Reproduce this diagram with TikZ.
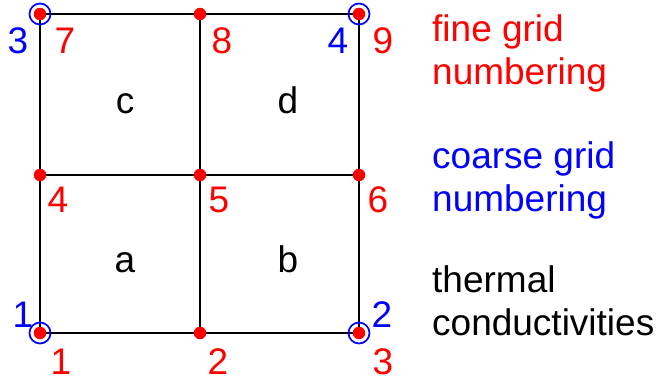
\documentclass[tikz,border=0pt]{standalone}
\usepackage{fontspec}
\setmainfont{Liberation Sans}

\begin{document}
\begin{tikzpicture}[x=1pt,y=-1pt,
  lbl/.style={font=\fontsize{37}{43}\selectfont,inner sep=0pt,anchor=base},
  fine/.style={lbl,red},
  coarse/.style={lbl,blue},
  legend/.style={lbl,anchor=base west,align=left},
  finept/.style={circle,fill=red,inner sep=0pt,minimum size=12.5pt},
  coarsept/.style={circle,draw=blue,line width=1.7pt,inner sep=0pt,minimum size=21pt}]
  \useasboundingbox (0,0) rectangle (658,381);
  % grid points, numbered as on the fine grid
  \coordinate (p1) at (40,333);
  \coordinate (p2) at (200,333);
  \coordinate (p3) at (359,333);
  \coordinate (p4) at (40,175);
  \coordinate (p5) at (200,175);
  \coordinate (p6) at (359,175);
  \coordinate (p7) at (40,14);
  \coordinate (p8) at (200,14);
  \coordinate (p9) at (359,14);
  % cell edges
  \draw[line width=1.6pt] (p1) -- (p3) -- (p9) -- (p7) -- cycle;
  \draw[line width=1.6pt] (p4) -- (p6);
  \draw[line width=1.6pt] (p2) -- (p8);
  % fine grid nodes
  \foreach \i in {1,...,9}
    \node[finept] (n\i) at (p\i) {};
  % coarse grid nodes
  \node[coarsept] (c1) at (p1) {};
  \node[coarsept] (c2) at (p3) {};
  \node[coarsept] (c3) at (p7) {};
  \node[coarsept] (c4) at (p9) {};
  % fine grid numbering
  \node[fine] (f1) at (61,374) {1};
  \node[fine] (f2) at (218,374) {2};
  \node[fine] (f3) at (383,374) {3};
  \node[fine] (f4) at (58,212) {4};
  \node[fine] (f5) at (219,212) {5};
  \node[fine] (f6) at (378,212) {6};
  \node[fine] (f7) at (65,53) {7};
  \node[fine] (f8) at (222,53) {8};
  \node[fine] (f9) at (383,53) {9};
  % coarse grid numbering
  \node[coarse] (k1) at (23,327) {1};
  \node[coarse] (k2) at (382,327) {2};
  \node[coarse] (k3) at (18,53) {3};
  \node[coarse] (k4) at (338,53) {4};
  % cells
  \node[lbl] (ca) at (125,272) {a};
  \node[lbl] (cb) at (288,272) {b};
  \node[lbl] (cc) at (125,113) {c};
  \node[lbl] (cd) at (288,113) {d};
  % legend
  \node[legend,red] (lf) at (432,84) {fine grid\\numbering};
  \node[legend,blue] (lc) at (432,211) {coarse grid\\numbering};
  \node[legend] (lt) at (432,335) {thermal\\conductivities};
\end{tikzpicture}
\end{document}
